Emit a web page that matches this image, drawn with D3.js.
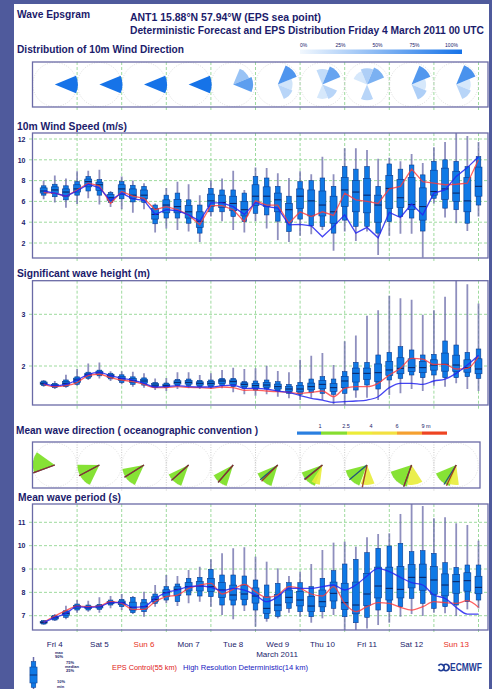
<!DOCTYPE html>
<html><head><meta charset="utf-8">
<script src="https://cdnjs.cloudflare.com/ajax/libs/d3/7.8.5/d3.min.js"></script>
<style>html,body{margin:0;padding:0;background:#4f5a9c;}svg{display:block}</style>
</head><body><svg id="c" width="492" height="689"></svg>
<script>
// ---------- DATA ----------
const hours = [6,12,18,24,30,36,42,48,54,60,66,72,78,84,90,96,102,108,114,120,126,132,138,144,150,156,162,168,174,180,186,192,198,204,210,216,222,228,234,240];
const dayHours = [24,48,72,96,120,144,168,192,216,240];
const noonHours = [12,36,60,84,108,132,156,180,204,228];
const dayLabels = ["Fri 4","Sat 5","Sun 6","Mon 7","Tue 8","Wed 9","Thu 10","Fri 11","Sat 12","Sun 13"];
const dayIsSunday = [false,false,true,false,false,false,false,false,false,true];

// 10m wind speed (m/s)
const wsMin = [6.2,5.9,5.4,5.75,6.3,5.7,5.45,5.25,4.9,5.25,3.0,3.4,3.25,3.1,2.1,4.55,4.1,3.25,3.0,4.1,3.4,2.3,2.1,2.7,2.85,3.25,1.25,3.1,2.2,3.1,0.85,2.7,2.9,2.9,0.6,5.8,4.45,3.9,3.15,4.55];
const wsP10 = [6.6,6.45,6.15,6.6,7.0,6.6,5.9,6.25,5.95,5.9,3.85,4.4,4.4,3.9,2.95,5.0,5.0,4.55,4.05,4.85,4.7,4.1,3.1,4.3,3.65,3.6,2.95,4.2,3.6,3.6,2.95,4.05,4.55,4.4,3.15,6.3,5.35,5.2,3.9,5.65];
const wsP25 = [6.8,6.75,6.5,6.9,7.4,7.05,6.1,6.65,6.3,6.25,4.3,4.9,4.9,4.4,3.5,5.5,5.4,5.1,4.6,5.6,5.5,5.0,4.0,5.3,4.6,4.6,3.9,5.5,5.0,4.9,4.0,5.3,5.4,5.2,4.2,6.6,6.2,6.0,5.0,6.5];
const wsMed = [7.0,7.1,6.9,7.2,7.9,7.6,6.35,7.2,6.6,6.6,4.75,5.65,5.5,5.0,4.1,6.05,5.9,5.8,5.2,6.5,6.5,6.15,5.2,6.5,6.05,5.65,5.0,7.1,6.9,6.6,5.65,7.25,6.35,5.7,5.5,6.95,7.2,6.8,6.05,7.45];
const wsP75 = [7.3,7.4,7.2,7.6,8.15,7.85,6.65,7.6,7.2,7.1,5.3,6.15,6.2,5.6,5.0,6.7,6.6,6.5,6.0,7.6,7.4,6.8,5.8,7.2,7.1,7.0,6.5,8.3,8.0,8.2,6.6,8.5,8.1,8.3,7.3,9.0,9.2,8.9,8.3,9.3];
const wsP90 = [7.5,7.65,7.5,7.9,8.4,8.1,6.85,7.9,7.55,7.45,5.65,6.6,6.8,6.15,5.65,7.25,7.1,7.1,6.8,8.4,8.25,7.45,6.5,7.9,8.0,8.25,7.45,9.35,9.1,9.35,7.45,9.6,9.1,9.5,8.55,9.85,10.0,9.85,9.35,10.3];
const wsMax = [8.0,8.5,8.2,8.9,8.95,9.05,7.0,8.4,8.0,7.75,5.8,7.3,7.9,7.65,6.6,8.0,8.2,8.95,7.1,9.25,9.2,8.7,8.25,8.9,8.6,10.3,8.6,11.1,11.1,10.95,10.1,10.2,9.85,10.55,9.7,11.2,11.7,12.9,12.3,11.7];
const wsCtrl = [6.85,6.8,6.5,7.1,7.75,7.5,5.8,6.95,6.5,6.3,5.2,5.5,5.2,4.7,3.75,5.6,5.6,5.2,4.05,6.05,5.65,5.65,3.9,5.0,4.55,5.0,4.65,6.8,6.15,6.0,5.8,7.2,7.45,9.1,7.9,7.75,7.6,7.65,7.75,10.0];
const wsHres = [7.0,6.8,6.5,7.0,7.65,7.3,6.1,6.8,6.25,6.1,4.75,5.2,5.1,4.7,4.1,5.85,5.85,5.5,4.75,5.9,5.5,5.35,3.75,3.8,3.65,2.6,3.6,4.7,2.95,3.5,2.5,4.95,4.45,5.75,4.7,6.8,7.1,8.4,9.25,10.3];
const wsTicks = [2,4,6,8,10,12];

// Significant wave height (m)
const hsMin = [1.6,1.555,1.58,1.62,1.73,1.76,1.71,1.645,1.6,1.58,1.535,1.516,1.555,1.568,1.555,1.555,1.568,1.49,1.452,1.426,1.452,1.406,1.374,1.342,1.387,1.342,1.258,1.245,1.387,1.387,1.342,1.439,1.471,1.555,1.516,1.619,1.6,1.665,1.555,1.516];
const hsP10 = [1.62,1.58,1.6,1.645,1.76,1.81,1.75,1.68,1.645,1.63,1.58,1.581,1.619,1.619,1.6,1.594,1.619,1.6,1.568,1.535,1.555,1.516,1.471,1.452,1.49,1.471,1.452,1.471,1.535,1.632,1.555,1.729,1.761,1.826,1.774,1.826,1.774,1.774,1.794,1.761];
const hsP25 = [1.64,1.6,1.63,1.68,1.79,1.84,1.78,1.72,1.68,1.67,1.605,1.6,1.65,1.65,1.63,1.63,1.66,1.645,1.605,1.575,1.59,1.555,1.51,1.5,1.54,1.56,1.51,1.58,1.69,1.74,1.70,1.82,1.85,1.89,1.87,1.92,1.90,1.89,1.88,1.85];
const hsMed = [1.665,1.62,1.665,1.73,1.83,1.87,1.81,1.76,1.72,1.71,1.63,1.62,1.684,1.684,1.665,1.665,1.71,1.697,1.645,1.62,1.632,1.6,1.555,1.555,1.6,1.645,1.581,1.71,1.858,1.858,1.871,1.923,1.955,1.968,1.968,2.019,2.032,2.019,1.968,1.942];
const hsP75 = [1.69,1.645,1.70,1.765,1.86,1.90,1.84,1.80,1.76,1.745,1.66,1.65,1.715,1.72,1.695,1.70,1.735,1.73,1.675,1.665,1.68,1.65,1.60,1.62,1.67,1.72,1.66,1.80,1.96,1.96,2.04,2.09,2.16,2.14,2.09,2.12,2.25,2.21,2.12,2.14];
const hsP90 = [1.71,1.665,1.73,1.79,1.88,1.92,1.86,1.83,1.79,1.77,1.68,1.671,1.742,1.748,1.723,1.729,1.761,1.761,1.697,1.71,1.729,1.697,1.645,1.684,1.748,1.794,1.748,1.89,2.071,2.071,2.213,2.264,2.374,2.31,2.213,2.226,2.484,2.406,2.264,2.329];
const hsMax = [1.73,1.71,1.83,1.94,2.05,2.07,1.9,1.9,1.89,1.86,1.76,1.77,1.877,1.877,1.826,1.858,1.923,1.968,1.942,1.955,2.006,1.903,1.877,2.12,2.2,2.25,2.02,2.48,2.59,2.97,3.08,3.36,3.31,3.28,2.99,3.08,3.34,3.7,3.58,3.21];
const hsCtrl = [1.645,1.6,1.62,1.68,1.813,1.84,1.774,1.729,1.697,1.645,1.581,1.581,1.6,1.587,1.581,1.568,1.594,1.581,1.529,1.535,1.516,1.503,1.49,1.471,1.49,1.516,1.406,1.568,1.6,1.6,1.665,1.826,1.955,2.148,2.135,2.03,2.03,1.942,1.955,2.18];
const hsHres = [1.665,1.62,1.645,1.73,1.84,1.877,1.813,1.761,1.729,1.665,1.594,1.6,1.619,1.6,1.594,1.594,1.619,1.632,1.568,1.568,1.555,1.516,1.49,1.426,1.374,1.342,1.297,1.31,1.323,1.342,1.406,1.581,1.665,1.665,1.645,1.71,1.748,1.858,2.019,2.21];
const hsTicks = [2,3];

// Mean wave period (s)
const tpMin = [6.614,6.771,6.843,7.129,7.171,7.129,7.314,7.243,7.071,6.957,7.386,7.529,7.414,7.529,7.6,7.386,7.029,6.843,7.2,6.529,6.743,6.886,7.129,6.957,6.7,6.886,7.029,6.386,6.386,6.457,6.6,6.7,6.957,7.071,6.986,7.129,7.1,6.986,7.271,7.314];
const tpP10 = [6.643,6.814,6.929,7.243,7.243,7.271,7.457,7.386,7.129,7.171,7.529,7.671,7.6,7.886,7.843,7.814,7.457,7.457,7.457,7.243,6.886,6.971,7.314,7.171,6.957,7.171,7.314,6.957,6.7,6.929,7.243,7.171,7.386,7.743,7.529,7.314,7.386,7.457,7.6,7.671];
const tpP25 = [6.68,6.86,7.02,7.31,7.30,7.33,7.51,7.47,7.24,7.28,7.61,7.83,7.86,8.06,8.06,8.03,7.78,7.67,7.69,7.54,7.10,7.21,7.55,7.42,7.18,7.38,7.63,7.26,7.08,7.43,7.76,7.67,7.76,8.19,8.09,7.92,7.85,7.96,8.05,7.94];
const tpMed = [6.714,6.914,7.1,7.386,7.357,7.386,7.557,7.557,7.357,7.386,7.7,7.986,8.129,8.243,8.271,8.243,8.1,7.886,7.929,7.843,7.314,7.457,7.786,7.671,7.414,7.6,7.957,7.557,7.457,7.929,8.271,8.171,8.129,8.643,8.643,8.529,8.314,8.457,8.5,8.214];
const tpP75 = [6.75,6.96,7.16,7.44,7.41,7.44,7.61,7.63,7.58,7.55,7.81,8.11,8.24,8.42,8.46,8.60,8.42,8.31,8.31,8.19,7.81,7.92,8.10,8.04,7.83,8.10,8.44,8.39,8.44,8.81,9.08,9.08,9.11,9.19,9.21,9.10,8.79,8.76,8.84,8.69];
const tpP90 = [6.786,7.014,7.214,7.5,7.457,7.486,7.671,7.7,7.786,7.7,7.929,8.243,8.357,8.6,8.643,8.986,8.743,8.743,8.7,8.529,8.314,8.386,8.414,8.414,8.243,8.6,8.929,9.214,9.414,9.7,9.886,9.986,10.1,9.743,9.786,9.671,9.271,9.071,9.171,9.171];
const tpMax = [6.814,7.071,7.429,7.671,7.643,7.786,7.843,7.929,7.843,8.029,8.314,8.743,8.7,8.957,9.1,9.414,9.671,9.886,9.929,9.529,9.314,9.029,8.7,8.886,9.214,9.814,10.129,10.171,9.957,10.357,10.5,10.529,11.357,11.9,11.7,11.171,11.214,10.957,10.886,10.214];
const tpCtrl = [6.714,6.986,7.214,7.414,7.386,7.414,7.6,7.529,7.271,7.271,7.6,7.814,7.886,8.171,8.314,8.386,7.929,8.129,8.343,8.029,7.786,7.886,8.243,8.171,7.929,7.843,8.243,7.529,7.171,7.386,7.557,7.529,7.357,7.243,7.386,7.6,7.557,7.529,7.643,7.357];
const tpHres = [6.714,6.914,7.1,7.386,7.357,7.386,7.557,7.557,7.357,7.386,7.743,7.986,8.1,8.243,8.271,8.214,8.071,8.171,8.1,7.886,7.6,7.814,8.171,8.171,8.171,8.243,8.314,8.1,8.314,8.7,9.029,8.886,8.643,8.414,8.314,7.886,7.743,7.357,7.071,7.071];
const tpTicks = [7,8,9,10,11];

// Wind direction distribution per day (probability per 45° sector: N,NE,E,SE,S,SW,W,NW)
const windDirSectors = [0,45,90,135,180,225,270,315];
const windDirProb = [
  [0,0,1,0,0,0,0,0],
  [0,0,1,0,0,0,0,0],
  [0,0,1,0,0,0,0,0],
  [0,0,1,0,0,0,0,0],
  [0,0.35,0.65,0,0,0,0,0],
  [0,0.72,0.08,0.2,0,0,0,0],
  [0.15,0.6,0,0.2,0.05,0,0,0],
  [0.25,0.5,0,0,0.2,0,0,0.05],
  [0,0.7,0.05,0.25,0,0,0,0],
  [0,0.75,0.05,0.2,0,0,0,0]
];
const windLegendLabels = ["0%","25%","50%","75%","100%"];

// Mean wave direction (oceanographic: direction waves travel toward, degrees)
const waveSecDir   = [278,238,232,222,220,222,225,228,222,222];
const waveSecWidth = [55,65,55,45,45,50,50,55,60,50];
const waveSec2Dir   = [null,null,null,null,null,null,200,178,170,190];
const waveSec2Width = [0,0,0,0,0,0,25,40,45,35];
const waveCtrlDir = [250,242,238,228,221,225,230,192,200,205];
const waveHresDir = [250,242,238,228,221,230,232,230,200,212];
const waveLegendBreaks = ["1","2.5","4","6","9 m"];
const waveLegendColors = ["#2a7fe0","#86dd30","#ecec38","#f3e040","#f5a030","#ee4422"];

// ---------- DRAW ----------
const svg = d3.select("#c");
const font = '"Liberation Sans", Arial, Helvetica, sans-serif';
const navy = "#1b1b6b";
const gridC = "#93d693";
const frameC = "#6a6aa6";
const boxFill = "#0f79e6";
const boxStroke = "#0d3d8f";

svg.append("rect").attr("width",492).attr("height",689).attr("fill","#4f5a9c");
svg.append("rect").attr("x",14).attr("y",4).attr("width",475).attr("height",685).attr("fill","#fff");

const x = d3.scaleLinear().domain([0,240]).range([32.5,478.5]);
const x0 = x(0), xRight = 488;

function txt(s, px, py, size, o={}) {
  const t = svg.append("text").attr("x",px).attr("y",py).text(s)
    .attr("font-family",font).attr("font-size",size)
    .attr("font-weight",o.weight||"bold").attr("fill",o.fill||navy)
    .attr("text-anchor",o.anchor||"start");
  if (o.len) t.attr("textLength",o.len).attr("lengthAdjust","spacingAndGlyphs");
  return t;
}

// Header
txt("Wave Epsgram",17,18,10,{len:73});
txt("ANT1 15.88°N 57.94°W (EPS sea point)",130,20.5,10,{len:191});
txt("Deterministic Forecast and EPS Distribution Friday  4 March 2011 00 UTC",130,34,10,{len:354});
txt("Distribution of 10m Wind Direction",17,53,10,{len:167});

// wind dir legend
const defs = svg.append("defs");
const lg = defs.append("linearGradient").attr("id","wdg");
lg.append("stop").attr("offset","0%").attr("stop-color","#f2f8fe");
lg.append("stop").attr("offset","100%").attr("stop-color","#1673e8");
svg.append("rect").attr("x",300).attr("y",49.5).attr("width",162).attr("height",4.5).attr("fill","url(#wdg)");
const wlx = d3.scaleLinear().domain([0,4]).range([303.5,451.5]);
windLegendLabels.forEach((l,i)=>txt(l,wlx(i),47,5,{anchor:"middle",weight:"normal"}));

// ---- wind direction panel ----
(function(){
  const top=62,bottom=107,cy=84.5;
  svg.append("rect").attr("x",x0).attr("y",top).attr("width",xRight-x0).attr("height",bottom-top).attr("fill","#fff");
  svg.selectAll(".wdv").data(dayHours).join("line").attr("x1",d=>x(d)).attr("x2",d=>x(d))
    .attr("y1",top).attr("y2",bottom+4).attr("stroke",gridC).attr("stroke-dasharray","3,2").attr("stroke-width",0.9);
  svg.selectAll(".wdc").data(noonHours).join("circle").attr("cx",d=>x(d)).attr("cy",cy).attr("r",22)
    .attr("fill","none").attr("stroke","#cfcfcf").attr("stroke-width",0.7).attr("stroke-dasharray","1,1.5");
  const col = d3.scaleLinear().domain([0,1]).range(["#e0eefc","#1673e8"]);
  const arc = d3.arc().innerRadius(0);
  windDirProb.forEach((probs,d)=>{
    const g = svg.append("g").attr("transform",`translate(${x(noonHours[d])},${cy})`);
    const items = probs.map((p,k)=>({p,dir:windDirSectors[k]})).filter(o=>o.p>0).sort((a,b)=>a.p-b.p);
    items.forEach(o=>{
      g.append("path").attr("d",arc({outerRadius:14+9*o.p,startAngle:(o.dir-22.5)*Math.PI/180,endAngle:(o.dir+22.5)*Math.PI/180}))
        .attr("fill",col(o.p));
    });
  });
  svg.append("rect").attr("x",x0).attr("y",top).attr("width",xRight-x0).attr("height",bottom-top)
    .attr("fill","none").attr("stroke",frameC).attr("stroke-width",1.3);
})();

// ---- box panels ----
function boxPanel(c){
  const {y,top,bottom,ticks,mn,p10,p25,med,p75,p90,mx,ctrl,hres,curve,id} = c;
  const g = svg.append("g");
  g.append("rect").attr("x",x0).attr("y",top).attr("width",xRight-x0).attr("height",bottom-top).attr("fill","#fff");
  g.selectAll(".hg").data(ticks).join("line").attr("x1",29).attr("x2",xRight).attr("y1",d=>y(d)).attr("y2",d=>y(d))
    .attr("stroke",gridC).attr("stroke-dasharray","3,2").attr("stroke-width",0.9);
  g.selectAll(".vg").data(dayHours).join("line").attr("x1",d=>x(d)).attr("x2",d=>x(d)).attr("y1",top).attr("y2",bottom+4)
    .attr("stroke",gridC).attr("stroke-dasharray","3,2").attr("stroke-width",0.9);
  const ax = g.append("g").attr("transform",`translate(${x0},0)`)
    .call(d3.axisLeft(y).tickValues(ticks).tickSize(0).tickPadding(7).tickFormat(d3.format("d")));
  ax.select(".domain").remove();
  ax.selectAll("text").attr("font-family",font).attr("font-size",7).attr("font-weight","bold").attr("fill",navy);
  defs.append("clipPath").attr("id","clip"+id).append("rect").attr("x",x0).attr("y",top).attr("width",xRight-x0).attr("height",bottom-top);
  const cg = g.append("g").attr("clip-path",`url(#clip${id})`);
  const idx = d3.range(hours.length);
  cg.selectAll(".wh").data(idx).join("line").attr("x1",i=>x(hours[i])).attr("x2",i=>x(hours[i]))
    .attr("y1",i=>y(mx[i])).attr("y2",i=>y(mn[i])).attr("stroke","#6a6aa8").attr("stroke-width",1.8).attr("stroke-opacity",0.75);
  cg.selectAll(".nb").data(idx).join("rect").attr("x",i=>x(hours[i])-2.3).attr("width",4.6)
    .attr("y",i=>y(p90[i])).attr("height",i=>Math.max(0.5,y(p10[i])-y(p90[i])))
    .attr("fill",boxFill).attr("stroke",boxStroke).attr("stroke-width",0.6);
  cg.selectAll(".wb").data(idx).join("rect").attr("x",i=>x(hours[i])-3.5).attr("width",7)
    .attr("y",i=>y(p75[i])).attr("height",i=>Math.max(0.5,y(p25[i])-y(p75[i])))
    .attr("fill",boxFill).attr("stroke",boxStroke).attr("stroke-width",0.6);
  cg.selectAll(".md").data(idx).join("line").attr("x1",i=>x(hours[i])-3.5).attr("x2",i=>x(hours[i])+3.5)
    .attr("y1",i=>y(med[i])).attr("y2",i=>y(med[i])).attr("stroke","#0c1f5c").attr("stroke-width",1);
  const ln = d3.line().x((d,i)=>x(hours[i])).y(d=>y(d)).curve(curve);
  cg.append("path").attr("d",ln(ctrl)).attr("fill","none").attr("stroke","#ff3a3a").attr("stroke-opacity",0.8).attr("stroke-width",1.3);
  cg.append("path").attr("d",ln(hres)).attr("fill","none").attr("stroke","#2424f0").attr("stroke-opacity",0.85).attr("stroke-width",1.3);
  g.append("rect").attr("x",x0).attr("y",top).attr("width",xRight-x0).attr("height",bottom-top)
    .attr("fill","none").attr("stroke",frameC).attr("stroke-width",1.3);
}

txt("10m Wind Speed (m/s)",17,129.5,10,{len:110});
boxPanel({id:"ws",y:d3.scaleLinear().domain([2,12]).range([243,139]),top:133,bottom:258,ticks:wsTicks,
  mn:wsMin,p10:wsP10,p25:wsP25,med:wsMed,p75:wsP75,p90:wsP90,mx:wsMax,ctrl:wsCtrl,hres:wsHres,curve:d3.curveLinear});

txt("Significant wave height (m)",17,277,10,{len:133});
boxPanel({id:"hs",y:d3.scaleLinear().domain([2,3]).range([366,314.3]),top:280.7,bottom:405,ticks:hsTicks,
  mn:hsMin,p10:hsP10,p25:hsP25,med:hsMed,p75:hsP75,p90:hsP90,mx:hsMax,ctrl:hsCtrl,hres:hsHres,curve:d3.curveMonotoneX});

// ---- mean wave direction ----
txt("Mean wave direction ( oceanographic convention )",16,433.5,10,{len:242});
(function(){
  const segs = [[297,321],[321,347],[347,372],[372,397],[397,422],[422,447]];
  segs.forEach((s,i)=>svg.append("rect").attr("x",s[0]).attr("y",431.5).attr("width",s[1]-s[0]).attr("height",3.2).attr("fill",waveLegendColors[i]));
  const lx = [320,346,371,397,426];
  waveLegendBreaks.forEach((l,i)=>txt(l,lx[i],428,5.5,{anchor:"middle",weight:"normal"}));
  const top=442,bottom=488,cy=465,right=480;
  svg.append("rect").attr("x",x0).attr("y",top).attr("width",right-x0).attr("height",bottom-top).attr("fill","#fff");
  svg.selectAll(".wvv").data(dayHours.slice(0,9)).join("line").attr("x1",d=>x(d)).attr("x2",d=>x(d))
    .attr("y1",top).attr("y2",bottom+3).attr("stroke","#bdbdbd").attr("stroke-dasharray","1,1.5").attr("stroke-width",0.8);
  svg.selectAll(".wvc").data(noonHours).join("circle").attr("cx",d=>x(d)).attr("cy",cy).attr("r",22)
    .attr("fill","none").attr("stroke","#d3d3d3").attr("stroke-width",0.7).attr("stroke-dasharray","1,1.5");
  const arc = d3.arc().innerRadius(0);
  const rad = Math.PI/180;
  noonHours.forEach((h,d)=>{
    const g = svg.append("g").attr("transform",`translate(${x(h)},${cy})`);
    g.append("path").attr("d",arc({outerRadius:22,startAngle:(waveSecDir[d]-waveSecWidth[d]/2)*rad,endAngle:(waveSecDir[d]+waveSecWidth[d]/2)*rad}))
      .attr("fill","#7fe02a").attr("fill-opacity",0.95);
    if (waveSec2Dir[d]!==null){
      g.append("path").attr("d",arc({outerRadius:20,startAngle:(waveSec2Dir[d]-waveSec2Width[d]/2)*rad,endAngle:(waveSec2Dir[d]+waveSec2Width[d]/2)*rad}))
        .attr("fill","#e8ec3a").attr("fill-opacity",0.9);
    }
    const L=23;
    g.append("line").attr("x1",0).attr("y1",0).attr("x2",L*Math.sin(waveHresDir[d]*rad)).attr("y2",-L*Math.cos(waveHresDir[d]*rad))
      .attr("stroke","#24557a").attr("stroke-width",1.3);
    g.append("line").attr("x1",0).attr("y1",0).attr("x2",L*Math.sin(waveCtrlDir[d]*rad)).attr("y2",-L*Math.cos(waveCtrlDir[d]*rad))
      .attr("stroke","#9a2a22").attr("stroke-width",1.3).attr("stroke-opacity",0.9);
  });
  svg.append("rect").attr("x",x0).attr("y",top).attr("width",right-x0).attr("height",bottom-top)
    .attr("fill","none").attr("stroke",frameC).attr("stroke-width",1.3);
})();

txt("Mean wave period (s)",18,501,10,{len:103});
boxPanel({id:"tp",y:d3.scaleLinear().domain([7,11]).range([615.7,522.3]),top:504,bottom:630,ticks:tpTicks,
  mn:tpMin,p10:tpP10,p25:tpP25,med:tpMed,p75:tpP75,p90:tpP90,mx:tpMax,ctrl:tpCtrl,hres:tpHres,curve:d3.curveMonotoneX});

// x labels
dayLabels.forEach((l,i)=>txt(l,x(noonHours[i]),647,8,{anchor:"middle",weight:"normal",fill:dayIsSunday[i]?"#e8301c":navy}));
txt("March 2011",277,657,8,{anchor:"middle",weight:"normal"});

// bottom legend: box icon
(function(){
  const cx=33.5;
  svg.append("line").attr("x1",cx).attr("x2",cx).attr("y1",657).attr("y2",689).attr("stroke","#6a6aa8").attr("stroke-width",1.5);
  svg.append("rect").attr("x",cx-2.3).attr("y",661.5).attr("width",4.6).attr("height",26).attr("fill",boxFill).attr("stroke",boxStroke).attr("stroke-width",0.5);
  svg.append("rect").attr("x",cx-3.6).attr("y",667).attr("width",7.2).attr("height",16).attr("fill",boxFill).attr("stroke",boxStroke).attr("stroke-width",0.5);
  svg.append("line").attr("x1",cx-3.6).attr("x2",cx+3.6).attr("y1",675).attr("y2",675).attr("stroke","#0c1f5c").attr("stroke-width",0.8);
  const labs = [["max",55,653.5],["90%",55,658],["75%",66,663.5],["median",65,667.5],["25%",66,671.5],["10%",57,682.5],["min",57,687.5]];
  labs.forEach(l=>txt(l[0],l[1],l[2],4,{weight:"bold"}));
})();
txt("EPS Control(55 km)",112,670,6.5,{len:65,weight:"normal",fill:"#e02020"});
txt("High Resolution Deterministic(14 km)",183,670,6.5,{len:125,weight:"normal",fill:"#2020c0"});
// ECMWF logo
(function(){
  const g = svg.append("g");
  const cArc = d3.arc()({innerRadius:2.2,outerRadius:4,startAngle:Math.PI*0.2,endAngle:Math.PI*1.8});
  g.append("path").attr("d",cArc).attr("transform","translate(441,667.5) rotate(-90)").attr("fill","#1f3c96");
  g.append("path").attr("d",cArc).attr("transform","translate(446,667.5) rotate(-90)").attr("fill","#1f3c96");
  txt("ECMWF",450,671,10,{len:32,fill:"#1f3c96"});
})();
</script></body></html>
